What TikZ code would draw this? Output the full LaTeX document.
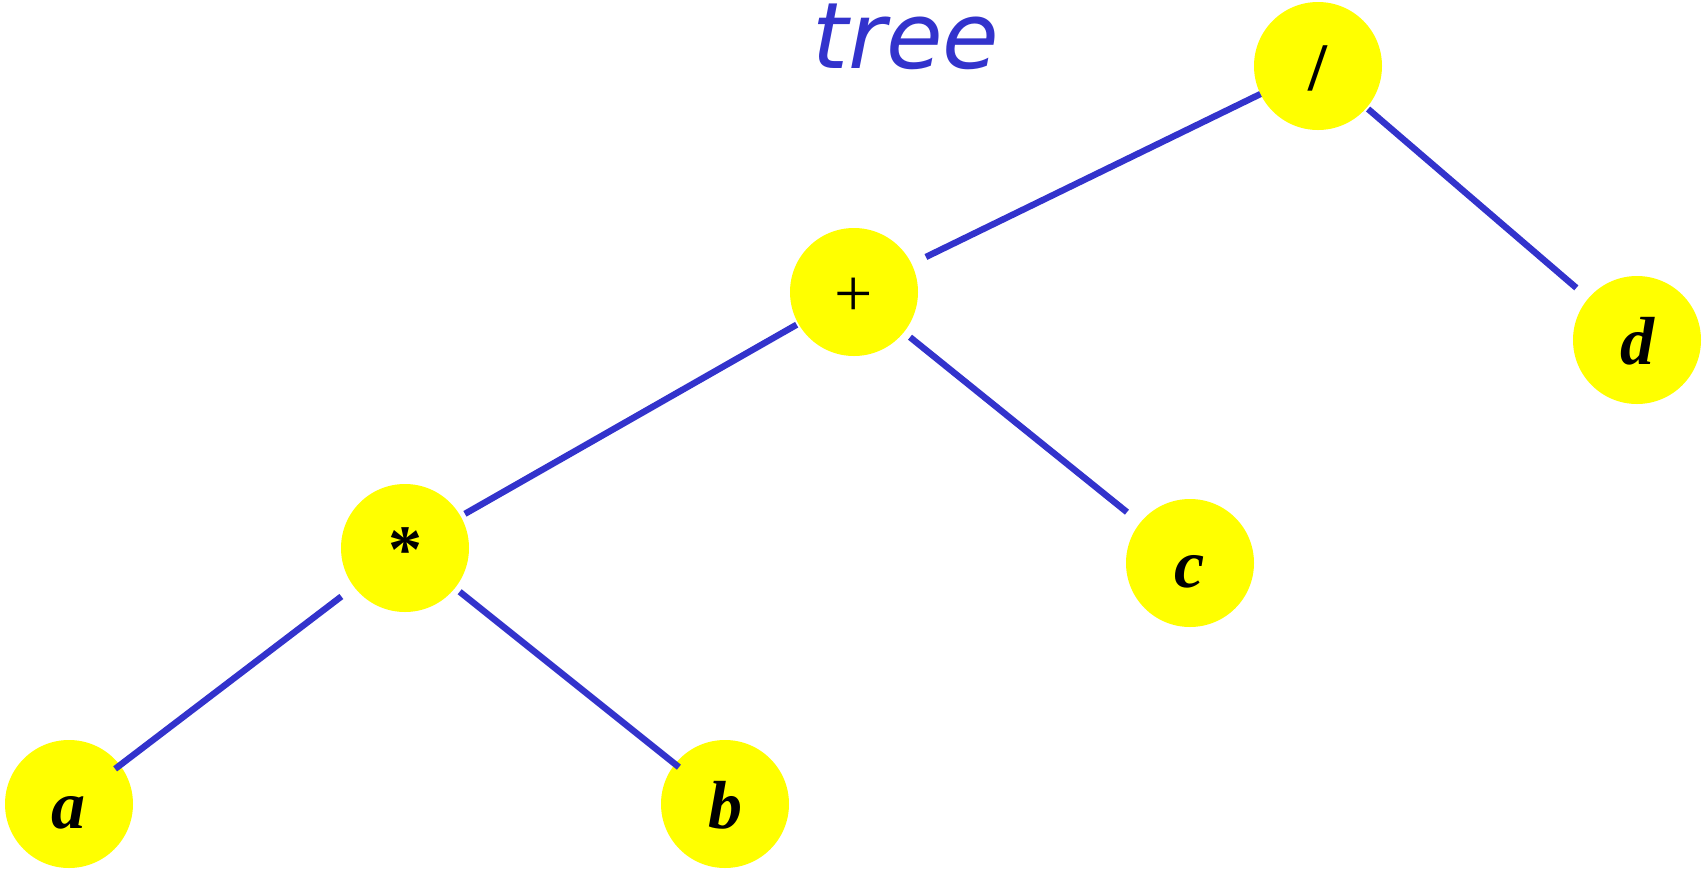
\documentclass[tikz,border=0pt]{standalone}
\usepackage{fontspec}
\setmainfont{Liberation Serif}
\newfontfamily\treefont{DejaVu Sans}
\definecolor{edgeblue}{RGB}{51,51,204}
\definecolor{nodeyellow}{RGB}{255,255,0}
\begin{document}
\begin{tikzpicture}[x=0.5pt,y=-0.5pt,
  treenode/.style={circle,fill=nodeyellow,draw=none,minimum size=64pt,inner sep=0pt,
    text height=24.5pt,text depth=0pt,font=\fontsize{34}{40}\selectfont\bfseries\itshape},
  opfont/.style={font=\fontsize{34}{40}\selectfont},
  slashfont/.style={font=\fontsize{34}{40}\selectfont\bfseries},
  treeedge/.style={draw=edgeblue,line width=3.2pt}]
\useasboundingbox (0,0) rectangle (1705,869);
\node[anchor=base west,text=edgeblue,inner sep=0pt,font=\treefont\itshape\fontsize{46}{50}\selectfont] (title) at (812,68) {tree};
\node[treenode,slashfont] (div) at (1318,66) {/};
\node[treenode,opfont] (plus) at (854,292) {+};
\node[treenode] (d) at (1637,340) {d};
\node[treenode,slashfont] (star) at (405,548) {*};
\node[treenode] (c) at (1190,563) {c};
\node[treenode] (a) at (69,804) {a};
\node[treenode] (b) at (725,804) {b};
\draw[treeedge,shorten <=32pt,shorten >=40pt] (div.center) -- (plus.center);
\draw[treeedge,shorten <=33pt,shorten >=40pt] (div.center) -- (d.center);
\draw[treeedge,shorten <=33pt,shorten >=34.5pt] (plus.center) -- (star.center);
\draw[treeedge,shorten <=36pt,shorten >=40.5pt] (plus.center) -- (c.center);
\draw[treeedge,shorten <=40pt,shorten >=29pt] (star.center) -- (a.center);
\draw[treeedge,shorten <=35pt,shorten >=29.5pt] (star.center) -- (b.center);
\end{tikzpicture}
\end{document}
